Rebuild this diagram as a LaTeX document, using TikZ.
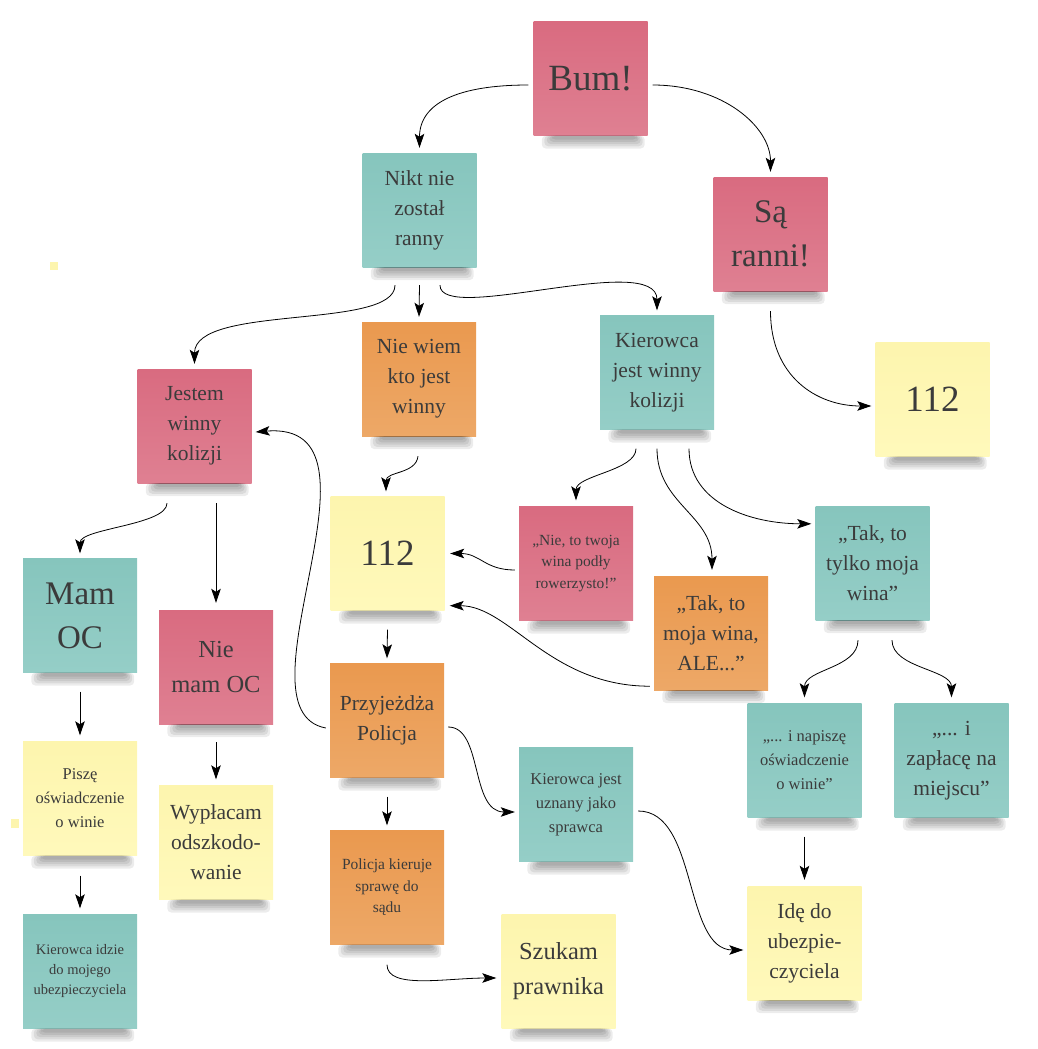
\documentclass[tikz,border=0pt]{standalone}
\usepackage{fontspec}
\setmainfont{Liberation Serif}
\usetikzlibrary{arrows.meta}

\definecolor{notepink}{HTML}{D96B80}
\definecolor{notepinklight}{HTML}{DF8092}
\definecolor{noteteal}{HTML}{86C5BD}
\definecolor{notetealight}{HTML}{95CEC7}
\definecolor{noteorange}{HTML}{EA994F}
\definecolor{noteorangelight}{HTML}{EDA867}
\definecolor{noteyellow}{HTML}{FDF5AE}
\definecolor{noteyellowlight}{HTML}{FFF9BB}
\definecolor{notetext}{HTML}{3B3B3B}

\tikzset{
    note/.style={minimum width=114pt, minimum height=114pt, inner sep=2pt,
        align=center, text=notetext},
    pink note/.style={note, top color=notepink, bottom color=notepinklight},
    teal note/.style={note, top color=noteteal, bottom color=notetealight},
    orange note/.style={note, top color=noteorange, bottom color=noteorangelight},
    yellow note/.style={note, top color=noteyellow, bottom color=noteyellowlight},
    huge text/.style={font=\fontsize{37}{40}\selectfont},
    big text/.style={font=\fontsize{33}{44}\selectfont},
    large text/.style={font=\fontsize{24.5}{35}\selectfont},
    mid text/.style={font=\fontsize{21.5}{30}\selectfont},
    small text/.style={font=\fontsize{16.5}{24}\selectfont},
    smaller text/.style={font=\fontsize{15.5}{21.5}\selectfont},
    tiny text/.style={font=\fontsize{14.5}{20}\selectfont},
    link/.style={-{Stealth[length=14pt,width=9.5pt,inset=3pt]}, line width=0.8pt}
}

\begin{document}
\begin{tikzpicture}[x=1pt, y=-1pt]
\useasboundingbox (0,0) rectangle (1037,1049);

% sticky notes
\node[pink note, huge text] (bum) at (590.5,78.5) {Bum!};
\node[teal note, mid text] (nikt) at (419.5,210) {Nikt nie\\został\\ranny};
\node[pink note, big text] (sa) at (770.5,234) {Są\\ranni!};
\node[yellow note, huge text] (r112) at (932.5,399.5) {112};
\node[orange note, mid text] (niewiem) at (419,379) {Nie wiem\\kto jest\\winny};
\node[teal note, mid text] (kierwin) at (657,372.5) {Kierowca\\jest winny\\kolizji};
\node[pink note, mid text] (jestem) at (194.5,426) {Jestem\\winny\\kolizji};
\node[yellow note, huge text] (c112) at (387.5,553.5) {112};
\node[pink note, smaller text] (nie) at (576,563.5) {„Nie, to twoja\\wina podły\\rowerzysto!”};
\node[orange note, mid text] (takale) at (711,633) {„Tak, to\\moja wina,\\ALE...”};
\node[teal note, mid text] (taktylko) at (872.5,563) {„Tak, to\\tylko moja\\wina”};
\node[teal note, big text] (mamoc) at (80,615.5) {Mam\\OC};
\node[pink note, large text] (niemamoc) at (216,667) {Nie\\mam OC};
\node[orange note, mid text] (policja) at (387,720.5) {Przyjeżdża\\Policja};
\node[teal note, small text] (napisze) at (804.5,760.5) {„... i napiszę\\oświadczenie\\o winie”};
\node[teal note, mid text] (zaplace) at (951.5,760.5) {„... i\\zapłacę na\\miejscu”};
\node[yellow note, small text] (pisze) at (80,798.5) {Piszę\\oświadczenie\\o winie};
\node[yellow note, mid text] (wyplacam) at (216,842.5) {Wypłacam\\odszkodo-\\wanie};
\node[teal note, small text] (uznany) at (576,804.5) {Kierowca jest\\uznany jako\\sprawca};
\node[orange note, smaller text] (sad) at (387,887.5) {Policja kieruje\\sprawę do\\sądu};
\node[yellow note, large text] (prawnik) at (558.5,971.5) {Szukam\\prawnika};
\node[yellow note, mid text] (ide) at (804.5,943) {Idę do\\ubezpie-\\czyciela};
\node[teal note, tiny text] (idzie) at (80,971.5) {Kierowca idzie\\do mojego\\ubezpieczyciela};

% soft shadows under the notes, built up in layers
\foreach \n in {bum,nikt,sa,r112,niewiem,kierwin,jestem,c112,nie,takale,taktylko,
    mamoc,niemamoc,policja,napisze,zaplace,pisze,wyplacam,uznany,sad,prawnik,ide,idzie} {
  \foreach \k in {1,...,5} {
    \pgfmathsetmacro{\lft}{6+2.5*\k}
    \pgfmathsetmacro{\rgt}{-1-2*\k}
    \pgfmathsetmacro{\dep}{-15+2.2*\k}
    \fill[black, opacity=0.075, rounded corners=4pt]
      ([xshift=\lft pt]\n.south west) rectangle ([xshift=\rgt pt,yshift=\dep pt]\n.south east);
  }
}

% stray bits of paper
\fill[noteyellow] (50,262) rectangle (58,270);
\fill[noteyellow] (11,819) rectangle (19,828);

% connectors
\draw[link] ([xshift=-5pt,yshift=-6.5pt]bum.west) .. controls +(-70,0) and +(0,-45) .. ([yshift=5pt]nikt.north);
\draw[link] ([xshift=5pt,yshift=-6.5pt]bum.east) .. controls +(70,0) and +(0,-45) .. ([yshift=5pt]sa.north);
\draw[link] ([xshift=-24.5pt,yshift=-18pt]nikt.south) .. controls +(0,45) and +(0,-60) .. ([yshift=5pt]jestem.north);
\draw[link] ([yshift=-18pt]nikt.south) -- ([yshift=5pt]niewiem.north);
\draw[link] ([xshift=20.5pt,yshift=-18pt]nikt.south) .. controls +(0,40) and +(0,-60) .. ([yshift=5pt]kierwin.north);
\draw[link] ([yshift=-20pt]sa.south) .. controls +(0,65) and +(-55,0) .. ([xshift=-4pt,yshift=-6.5pt]r112.west);
\draw[link] ([xshift=-1pt,yshift=-20pt]niewiem.south) .. controls +(-2,18) and +(0,-20) .. ([xshift=-1.5pt,yshift=5pt]c112.north);
\draw[link] ([xshift=-4pt,yshift=-7.5pt]policja.west) .. controls +(-96,-18) and +(145,-12) .. ([xshift=4pt,yshift=-6pt]jestem.east);
\draw[link] ([xshift=-27.5pt,yshift=-20pt]jestem.south) .. controls +(0,22) and +(0,-25) .. ([yshift=5pt]mamoc.north);
\draw[link] ([xshift=21.5pt,yshift=-20pt]jestem.south) -- ([yshift=7pt]niemamoc.north);
\draw[link] ([xshift=-21pt,yshift=-19pt]kierwin.south) .. controls +(0,22) and +(0,-25) .. ([yshift=6pt]nie.north);
\draw[link] ([yshift=-19pt]kierwin.south) .. controls +(0,55) and +(0,-55) .. ([xshift=1pt,yshift=6pt]takale.north);
\draw[link] ([xshift=32pt,yshift=-19pt]kierwin.south) .. controls +(0,55) and +(-60,0) .. ([xshift=-4pt,yshift=-18pt]taktylko.north west);
\draw[link] ([xshift=-4pt,yshift=-6.5pt]nie.west) .. controls +(-30,0) and +(30,0) .. ([xshift=5.5pt]c112.east);
\draw[link] ([xshift=-4pt,yshift=4pt]takale.south west) .. controls +(-100,0) and +(60,0) .. ([xshift=5pt,yshift=5pt]c112.south east);
\draw[link] ([yshift=-19pt]c112.south) -- ([yshift=5pt]policja.north);
\draw[link] ([yshift=-19pt]mamoc.south) -- ([yshift=6pt]pisze.north);
\draw[link] ([yshift=-18pt]niemamoc.south) -- ([yshift=6pt]wyplacam.north);
\draw[link] ([xshift=-14.5pt,yshift=-20pt]taktylko.south) .. controls +(0,28) and +(0,-28) .. ([yshift=6pt]napisze.north);
\draw[link] ([xshift=19.5pt,yshift=-20pt]taktylko.south) .. controls +(0,28) and +(0,-28) .. ([yshift=6pt]zaplace.north);
\draw[link] ([yshift=-20pt]pisze.south) -- ([yshift=6pt]idzie.north);
\draw[link] ([xshift=4pt,yshift=-6.5pt]policja.east) .. controls +(35,0) and +(-45,0) .. ([xshift=-4pt,yshift=-7.5pt]uznany.west);
\draw[link] ([yshift=-19pt]policja.south) -- ([yshift=5pt]sad.north);
\draw[link] ([yshift=-19pt]napisze.south) -- ([yshift=6pt]ide.north);
\draw[link] ([xshift=5pt,yshift=-6.5pt]uznany.east) .. controls +(60,0) and +(-60,0) .. ([xshift=-4pt,yshift=-7pt]ide.west);
\draw[link] ([yshift=-20pt]sad.south) .. controls +(0,25) and +(-50,0) .. ([xshift=-5pt,yshift=-6.5pt]prawnik.west);

\end{tikzpicture}
\end{document}
